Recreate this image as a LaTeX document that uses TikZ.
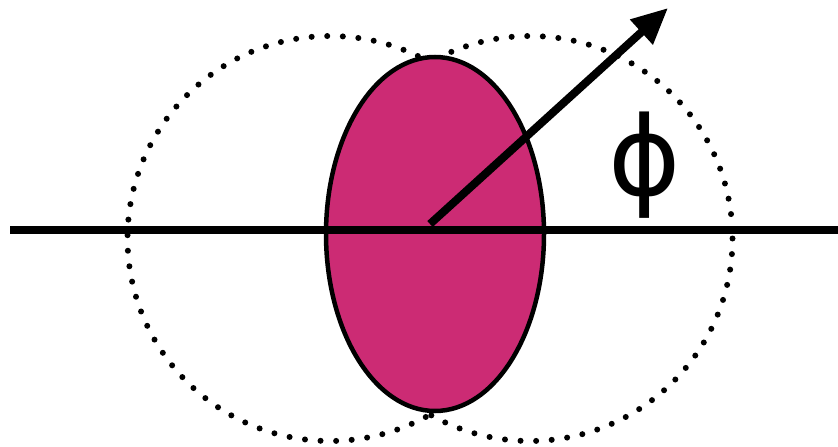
\documentclass[tikz,border=0pt]{standalone}
\usepackage{fontspec}
\newfontfamily\phifont{DejaVu Sans}
\usetikzlibrary{positioning,arrows.meta,shapes.geometric}
\definecolor{lobe}{RGB}{204,43,116}
\tikzset{
  dotcircle/.style={line width=6pt, line cap=round, dash pattern=on 0pt off 15.6pt},
  axisline/.style={line width=8pt},
}

\begin{document}
\begin{tikzpicture}[x=1pt, y=-1pt, >={Triangle[length=36pt,width=32pt]}]
  \useasboundingbox (0,0) rectangle (838,447);
  \coordinate (L) at (330,238.5);
  \coordinate (R) at (530,238.5);
  \draw[dotcircle] (L) circle[radius=202.5];
  \draw[dotcircle] (R) circle[radius=202.5];
  \node (E) [ellipse, draw, line width=4.5pt, fill=lobe, minimum width=218pt, minimum height=354pt, inner sep=0pt] at (435,234) {};
  \coordinate (W) at (10,230);
  \coordinate (Ea) at (838,230);
  \draw[axisline] (W) -- (Ea);
  \coordinate (O) at (430,224);
  \coordinate (T) at (668,8);
  \draw[->, line width=8pt] (O) -- (T);
  \node (phi) at (645,165) {\phifont\fontsize{110}{110}\selectfont ϕ};
\end{tikzpicture}
\end{document}
